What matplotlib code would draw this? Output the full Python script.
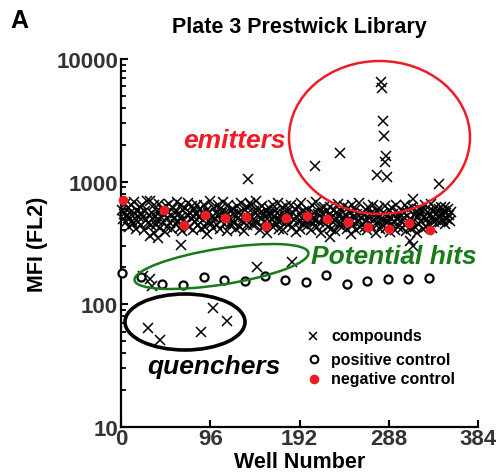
import numpy as np
import matplotlib
matplotlib.use("Agg")
import matplotlib.pyplot as plt
from matplotlib.patches import Ellipse

plt.rcParams['font.family'] = ['Liberation Sans', 'DejaVu Sans']
plt.rcParams['font.weight'] = 'bold'

# ---------------- data ----------------
# compound MFI values for wells 1..355 (main band)
band_values = [
    590, 500, 545, 660, 470, 530, 610, 505, 430, 555, 640, 480, 450, 680, 540, 410, 590, 470, 520, 625,
    440, 555, 650, 515, 400, 580, 490, 690, 460, 530, 700, 445, 560, 500, 380, 640, 525, 445, 575, 480,
    660, 420, 520, 600, 470, 550, 390, 630, 505, 430, 570, 655, 460, 535, 410, 610, 500, 560, 450, 680,
    475, 555, 420, 640, 520, 395, 585, 490, 610, 455, 530, 670, 430, 560, 505, 630, 405, 520, 590, 470,
    545, 650, 445, 515, 600, 410, 555, 485, 640, 430, 530, 590, 375, 560, 480, 690, 455, 520, 420, 610,
    505, 560, 445, 650, 530, 415, 600, 490, 555, 680, 450, 520, 570, 395, 640, 510, 440, 590, 480, 545,
    600, 460, 530, 410, 630, 505, 560, 430, 665, 480, 520, 395, 590, 490, 625, 445, 555, 510, 670, 645,
    520, 440, 575, 475, 700, 460, 535, 600, 405, 560, 500, 630, 430, 540, 475, 590, 380, 550, 615, 470,
    560, 500, 430, 640, 525, 575, 450, 490, 675, 415, 530, 475, 610, 400, 550, 515, 630, 460, 500, 575,
    450, 530, 650, 430, 560, 490, 600, 390, 520, 620, 470, 555, 415, 665, 505, 455, 580, 475, 530, 435,
    590, 475, 520, 405, 640, 505, 450, 560, 490, 680, 430, 545, 465, 600, 385, 555, 500, 620, 455, 515,
    490, 575, 430, 530, 625, 410, 515, 470, 590, 395, 560, 500, 655, 440, 530, 460, 580, 425, 515, 635,
    470, 530, 415, 610, 500, 560, 375, 480, 640, 440, 525, 585, 405, 545, 470, 670, 430, 510, 560, 450,
    530, 430, 590, 480, 400, 625, 510, 460, 555, 425, 650, 490, 530, 380, 580, 455, 515, 610, 410, 500,
    445, 555, 490, 635, 420, 525, 470, 585, 390, 510, 610, 450, 540, 480, 405, 640, 500, 430, 560, 515,
    480, 420, 575, 510, 445, 650, 395, 525, 595, 465, 500, 410, 620, 480, 530, 430, 560, 380, 515, 595,
    450, 540, 480, 590, 410, 515, 640, 430, 500, 565, 455, 530, 655, 420, 510, 580, 470, 615, 490, 555,
    515, 595, 470, 625, 530, 490, 575, 455, 620, 555, 500, 600, 530, 480, 565,
]

# outlying compounds
emitter_wells  = [280, 281, 282, 283, 285, 284, 275, 286, 236, 209, 342, 314, 137]
emitter_values = [6530, 5840, 3140, 2340, 1610, 1440, 1140, 1087, 1704, 1350, 958, 723, 1051]

hit_wells  = [146, 184, 31, 24]
hit_values = [200, 220, 161, 170]

low_wells  = [65, 31, 40, 311, 314, 225, 33]
low_values = [307, 361, 346, 330, 300, 352, 142]

quencher_wells  = [29, 42, 86, 99, 114]
quencher_values = [64, 51, 60, 93, 73]

pos_wells  = [1, 22, 44, 67, 89, 111, 133, 155, 176, 199, 221, 243, 265, 287, 309, 331]
pos_values = [179, 168, 147, 144, 167, 158, 155, 170, 159, 153, 174, 146, 154, 161, 161, 164]

neg_wells  = [2, 46, 68, 90, 112, 134, 156, 178, 200, 222, 244, 266, 288, 310, 332]
neg_values = [710, 588, 446, 535, 509, 516, 436, 503, 522, 497, 467, 425, 414, 461, 406]

x_ticks = [0, 96, 192, 288, 384]
y_ticks = [10, 100, 1000, 10000]

# ---------------- figure ----------------
W, H = 497, 477
fig = plt.figure(figsize=(W / 100, H / 100), dpi=100)
ax = fig.add_axes([121 / W, 1 - 428 / H, 357 / W, 368 / H])

band_wells = np.arange(1, len(band_values) + 1)
comp_x = np.concatenate([band_wells, emitter_wells, hit_wells, low_wells, quencher_wells])
comp_y = np.concatenate([band_values, emitter_values, hit_values, low_values, quencher_values])

ax.plot(comp_x, comp_y, ls='none', marker='x', ms=6.5, mew=1.1, color='black',
        clip_on=False, zorder=3)
ax.plot(pos_wells, pos_values, ls='none', marker='o', ms=5.8, mew=1.6,
        mfc='white', mec='black', clip_on=False, zorder=4)
ax.plot(neg_wells, neg_values, ls='none', marker='o', ms=7, mew=0,
        color='#f01c24', clip_on=False, zorder=5)

ax.set_yscale('log')
ax.set_xlim(0, 384)
ax.set_ylim(10, 10000)
ax.set_xticks(x_ticks)
ax.set_xticklabels([str(v) for v in x_ticks])
ax.set_yticks(y_ticks)
ax.set_yticklabels([str(v) for v in y_ticks])

for s in ['top', 'right']:
    ax.spines[s].set_visible(False)
for s in ['left', 'bottom']:
    ax.spines[s].set_linewidth(1.6)

ax.tick_params(axis='both', which='major', direction='in', length=5, width=1.5,
               labelsize=16, labelcolor='#333333', pad=2)
ax.tick_params(axis='x', which='major', pad=1)
ax.tick_params(axis='y', which='minor', direction='in', length=3.5, width=1.3)
ax.tick_params(axis='x', which='minor', bottom=False)

for lab in ax.get_xticklabels() + ax.get_yticklabels():
    lab.set_fontweight('bold')

ax.set_xlabel('Well Number', fontsize=15.5, fontweight='bold', labelpad=1)
ax.set_ylabel('MFI (FL2)', fontsize=15.5, fontweight='bold', labelpad=6)

fig.text(299 / W, 1 - 27 / H, 'Plate 3 Prestwick Library', ha='center', va='center',
         fontsize=15.5, fontweight='bold')
fig.text(10 / W, 1 - 21 / H, 'A', ha='left', va='center', fontsize=18, fontweight='bold')

# ellipses (pixel geometry)
def px_ellipse(cx, cy, w, h, angle, color, lw):
    e = Ellipse((cx / 100, (H - cy) / 100), w / 100, h / 100, angle=angle,
                transform=fig.dpi_scale_trans, fill=False, edgecolor=color, lw=lw,
                zorder=6)
    fig.patches.append(e)

px_ellipse(379.5, 138.5, 181, 153, 0, '#f01c24', 1.8)
px_ellipse(221.5, 267.5, 176, 36, 9, '#1a7a1a', 1.8)
px_ellipse(185, 323, 120, 56, 0, 'black', 2.6)

fig.text(234 / W, 1 - 141 / H, 'emitters', ha='center', va='center', fontsize=19,
         fontweight='bold', style='italic', color='#f01c24')
fig.text(394 / W, 1 - 257 / H, 'Potential hits', ha='center', va='center', fontsize=19,
         fontweight='bold', style='italic', color='#1a7a1a')
fig.text(214 / W, 1 - 367 / H, 'quenchers', ha='center', va='center', fontsize=19,
         fontweight='bold', style='italic', color='black')

# legend drawn manually
leg_items = [('x', 'compounds', 337), ('o', 'positive control', 360), ('.', 'negative control', 380)]
for mk, label, py in leg_items:
    y = 1 - py / H
    if mk == 'x':
        fig.lines.append(plt.Line2D([313 / W], [y], ls='none', marker='x', ms=6, mew=1.1,
                                    color='black', transform=fig.transFigure))
    elif mk == 'o':
        fig.lines.append(plt.Line2D([314 / W], [y], ls='none', marker='o', ms=5.5, mew=1.5,
                                    mfc='white', mec='black', transform=fig.transFigure))
    else:
        fig.lines.append(plt.Line2D([314 / W], [y], ls='none', marker='o', ms=7, mew=0,
                                    color='#f01c24', transform=fig.transFigure))
    fig.text(331 / W, y, label, ha='left', va='center', fontsize=11.5, fontweight='bold')

fig.savefig('out.png', dpi=100)
